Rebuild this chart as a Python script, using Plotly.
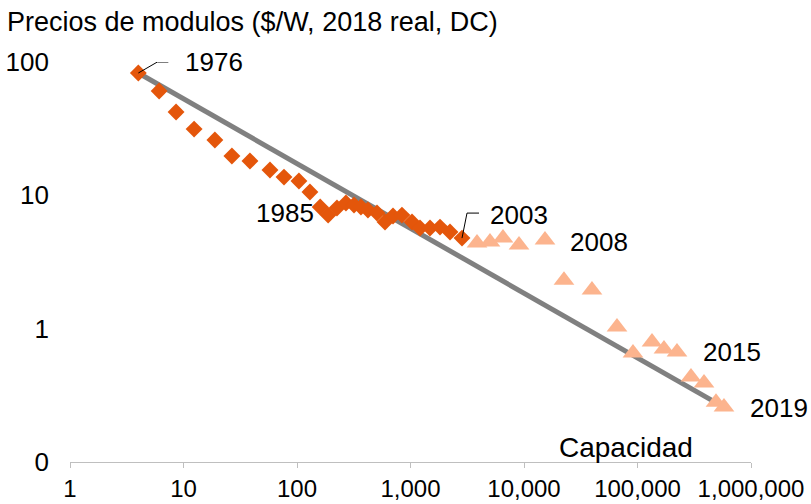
import plotly.graph_objects as go
import math

# ---- data ----
diamond_x = [4.0, 6.1, 8.6, 12.4, 18.9, 26.7, 38.5, 57.8, 76.8, 104, 130, 160, 188, 225, 270,
             318, 366, 422, 507, 596, 701, 841, 1031, 1213, 1486, 1820, 2228, 2843]
diamond_y = [82.7, 60.6, 42.2, 31.4, 26.0, 19.7, 18.1, 15.5, 13.7, 12.8, 10.6, 8.17, 7.11, 8.03, 8.75,
             8.46, 8.17, 7.76, 7.37, 6.31, 7.0, 7.11, 6.31, 5.69, 5.69, 5.78, 5.31, 4.78]

triangle_x = [3855, 5015, 6530, 9035, 15310, 22500, 39700, 65960, 91250, 134200, 171100,
              222800, 296000, 385500, 491700, 578000]
triangle_y = [4.39, 4.46, 4.78, 4.24, 4.62, 2.31, 1.95, 1.03, 0.656, 0.794, 0.703,
              0.668, 0.434, 0.391, 0.281, 0.258]

trend_x = [4.0, 481800]
trend_y = [82.7, 0.281]

x_tickvals = [1, 10, 100, 1000, 10000, 100000, 1000000]
x_ticktext = ["1", "10", "100", "1,000", "10,000", "100,000", "1,000,000"]
y_tickvals = [0.1, 1, 10, 100]
y_ticktext = ["0", "1", "10", "100"]

title_text = "Precios de modulos ($/W, 2018 real, DC)"
x_title = "Capacidad"

FONT = "Liberation Sans, Arial, sans-serif"
DIAMOND_COLOR = "#E4560B"
TRI_COLOR = "#FCB48E"

fig = go.Figure()
fig.add_trace(go.Scatter(x=trend_x, y=trend_y, mode="lines",
                         line=dict(color="#808080", width=5), hoverinfo="skip"))
fig.add_trace(go.Scatter(x=diamond_x, y=diamond_y, mode="markers",
                         marker=dict(symbol="diamond", size=13, color=DIAMOND_COLOR,
                                     line=dict(width=0))))
fig.add_trace(go.Scatter(x=triangle_x, y=triangle_y, mode="markers",
                         marker=dict(symbol="triangle-up", size=18, color=TRI_COLOR,
                                     line=dict(width=0))))


def lg(v):
    return math.log10(v)


# labels: (text, x, y, xanchor, xshift, yshift)
labels = [
    ("1976", diamond_x[0], diamond_y[0], "left", 45, 11),
    ("1985", diamond_x[11], diamond_y[11], "right", -4, -6),
    ("2003", diamond_x[-1], diamond_y[-1], "left", 26, 23),
    ("2008", triangle_x[4], triangle_y[4], "left", 23, -2),
    ("2015", triangle_x[11], triangle_y[11], "left", 24, 0),
    ("2019", triangle_x[-1], triangle_y[-1], "left", 24, -1),
]
annotations = []
for t, xv, yv, xa, xs, ys in labels:
    annotations.append(dict(text=t, x=lg(xv), y=lg(yv), xref="x", yref="y",
                            xanchor=xa, yanchor="middle", xshift=xs, yshift=ys,
                            showarrow=False, font=dict(family=FONT, size=26, color="black")))
annotations.append(dict(text=x_title, x=0.817, y=0.037, xref="paper", yref="paper",
                        xanchor="center", yanchor="middle", showarrow=False,
                        font=dict(family=FONT, size=28, color="black")))

shapes = [
    dict(type="path", xref="x", yref="y", xsizemode="pixel", ysizemode="pixel",
         xanchor=diamond_x[0], yanchor=diamond_y[0],
         path="M0,0 L19,11 L30,11", line=dict(color="black", width=1)),
    dict(type="path", xref="x", yref="y", xsizemode="pixel", ysizemode="pixel",
         xanchor=diamond_x[-1], yanchor=diamond_y[-1],
         path="M0,0 L5,25 L17,25", line=dict(color="black", width=1)),
]

fig.update_layout(
    width=811, height=504,
    margin=dict(l=70, r=60, t=62, b=42, autoexpand=False),
    paper_bgcolor="white", plot_bgcolor="white",
    showlegend=False,
    title=dict(text=title_text, xref="container", yref="container",
               x=7 / 811, y=1 - 22 / 504, xanchor="left", yanchor="middle",
               font=dict(family=FONT, size=27, color="black")),
    annotations=annotations,
    shapes=shapes,
    xaxis=dict(type="log", range=[0, 6], tickvals=x_tickvals, ticktext=x_ticktext,
               automargin=False,
               showgrid=False, zeroline=False, showline=True, linecolor="#BFBFBF",
               linewidth=1, ticks="outside", ticklen=5, tickcolor="#BFBFBF",
               tickfont=dict(family=FONT, size=24, color="black")),
    yaxis=dict(type="log", range=[-1, 2], tickvals=y_tickvals, ticktext=y_ticktext,
               automargin=False,
               showgrid=False, zeroline=False, showline=False, ticks="",
               ticklabelstandoff=20,
               tickfont=dict(family=FONT, size=26, color="black")),
)

fig.write_html("out.html",
               config={"displayModeBar": False},
               post_script="document.body.style.margin='0';document.body.style.overflow='hidden';")
